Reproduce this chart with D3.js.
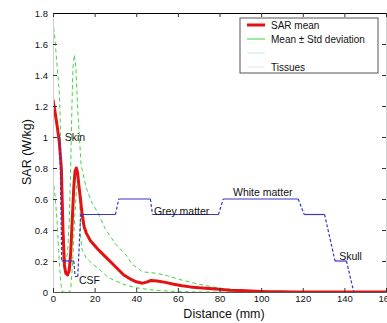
<!DOCTYPE html>
<html>
<head>
<meta charset="utf-8">
<script src="https://cdn.jsdelivr.net/npm/d3@7"></script>
<style>
  html, body { margin: 0; padding: 0; background: #fff; }
  svg { display: block; font-family: Arial, "Liberation Sans", Helvetica, sans-serif; }
</style>
</head>
<body>
<svg id="chart" width="387" height="323"></svg>
<script>
// SAR mean along the distance (mm)
const meanDist = [0, 1, 2, 3, 4, 4.8, 5.5, 6.2, 7, 7.8, 8.5, 9.2, 10, 10.6, 11.2, 11.8, 12.5, 13.2, 14, 15, 16, 18, 20, 22, 25, 28, 31, 34, 37, 40, 43, 45, 47, 50, 54, 58, 62, 66, 70, 75, 80, 85, 90, 95, 100, 105, 110, 115, 160];
const meanSar = [1.24, 1.16, 1.07, 0.97, 0.8, 0.4, 0.17, 0.12, 0.11, 0.14, 0.25, 0.45, 0.68, 0.78, 0.8, 0.77, 0.68, 0.6, 0.5, 0.42, 0.38, 0.33, 0.3, 0.27, 0.23, 0.19, 0.15, 0.11, 0.085, 0.066, 0.057, 0.064, 0.074, 0.071, 0.062, 0.05, 0.04, 0.033, 0.028, 0.022, 0.017, 0.012, 0.009, 0.006, 0.004, 0.002, 0.001, 0, 0];

// mean + std
const upperDist = [0, 1, 2, 3, 3.5, 3.8, 4.2, 5, 6, 7, 7.8, 8.5, 9.1, 9.6, 10.3, 11, 12, 13.5, 16, 18.5, 21.6, 25, 30, 35, 38, 43, 47, 50, 55, 61, 70, 80, 90, 100, 110, 160];
const upperSar = [1.75, 1.62, 1.45, 1.3, 1.1, 0.8, 0.5, 0.3, 0.2, 0.25, 0.45, 0.8, 1.2, 1.45, 1.53, 1.45, 1.15, 0.82, 0.67, 0.58, 0.51, 0.41, 0.31, 0.24, 0.18, 0.13, 0.125, 0.12, 0.105, 0.08, 0.05, 0.025, 0.012, 0.005, 0, 0];

// mean - std
const lowerDist = [0, 1, 2, 3, 3.8, 4.5, 8, 8.5, 9.5, 10.5, 11.5, 12.3, 12.8, 13.3, 14, 16, 19, 22, 26, 30, 35, 40, 45, 50, 60, 70, 160];
const lowerSar = [0.73, 0.62, 0.45, 0.2, 0.05, 0, 0, 0.02, 0.2, 0.5, 0.7, 0.72, 0.65, 0.35, 0.27, 0.22, 0.18, 0.15, 0.1, 0.07, 0.045, 0.028, 0.018, 0.01, 0.003, 0, 0];

// tissue profile
const tissueDist = [3.3, 4.2, 10, 10.6, 11.9, 13.3, 30, 31.6, 46.8, 47.8, 79.5, 81.8, 117.8, 120.7, 130.5, 135.5, 141, 144.5];
const tissueSar = [1.0, 0.2, 0.2, 0.1, 0.1, 0.5, 0.5, 0.6, 0.6, 0.5, 0.5, 0.6, 0.6, 0.5, 0.5, 0.2, 0.2, 0];

const tissueNames = ["Skin", "CSF", "Grey matter", "White matter", "Skull"];
const tissueNameDist = [5.6, 12.5, 48.5, 86.5, 137.5];
const tissueNameSar = [1.0, 0.077, 0.52, 0.64, 0.23];

const xTicks = [0, 20, 40, 60, 80, 100, 120, 140, 160];
const yTicks = [0, 0.2, 0.4, 0.6, 0.8, 1, 1.2, 1.4, 1.6, 1.8];

const legendNames = ["SAR mean", "Mean \u00b1 Std deviation", "", "Tissues"];

const plotLeft = 53, plotTop = 13, plotRight = 386, plotBottom = 292;

const svg = d3.select("#chart");

const x = d3.scaleLinear().domain([0, 160]).range([plotLeft, plotRight]);
const y = d3.scaleLinear().domain([0, 1.8]).range([plotBottom, plotTop]);

svg.append("defs").append("clipPath").attr("id", "plot")
  .append("rect")
  .attr("x", plotLeft).attr("y", plotTop)
  .attr("width", plotRight - plotLeft).attr("height", plotBottom - plotTop);

const zip = (xs, ys) => xs.map((d, i) => [d, ys[i]]);
const line = d3.line().x(d => x(d[0])).y(d => y(d[1]));

const plot = svg.append("g").attr("clip-path", "url(#plot)");

// std lines
[zip(upperDist, upperSar), zip(lowerDist, lowerSar)].forEach(pts => {
  plot.append("path")
    .attr("d", line(pts))
    .attr("fill", "none")
    .attr("stroke", "#3fd83f")
    .attr("stroke-width", 1)
    .attr("stroke-dasharray", "4,3");
});

// mean line
plot.append("path")
  .attr("d", line(zip(meanDist, meanSar)))
  .attr("fill", "none")
  .attr("stroke", "#e41212")
  .attr("stroke-width", 3)
  .attr("stroke-linejoin", "round");

// tissue line: flat parts solid, transitions dashed
const tissue = zip(tissueDist, tissueSar);
for (let i = 0; i < tissue.length - 1; i++) {
  const a = tissue[i], b = tissue[i + 1];
  plot.append("path")
    .attr("d", line([a, b]))
    .attr("fill", "none")
    .attr("stroke", "#3636c8")
    .attr("stroke-width", 1.2)
    .attr("stroke-dasharray", a[1] === b[1] ? null : "3,2");
}

// axes, MATLAB style with inward ticks
const yAxis = d3.axisLeft(y).tickValues(yTicks).tickFormat(String).tickSize(-4).tickPadding(5);
const yAxisR = d3.axisRight(y).tickValues(yTicks).tickFormat("").tickSize(-4);
const xAxis = d3.axisBottom(x).tickValues(xTicks).tickFormat(String).tickSize(-4).tickPadding(3);
const xAxisT = d3.axisTop(x).tickValues(xTicks).tickFormat("").tickSize(-4);

const gl = svg.append("g").attr("transform", `translate(${plotLeft},0)`).call(yAxis);
const gr = svg.append("g").attr("transform", `translate(${plotRight},0)`).call(yAxisR);
const gb = svg.append("g").attr("transform", `translate(0,${plotBottom})`).call(xAxis);
const gt = svg.append("g").attr("transform", `translate(0,${plotTop})`).call(xAxisT);

gl.select(".domain").attr("stroke", "#d0d0d0");
gr.select(".domain").attr("stroke", "#d0d0d0");
gb.select(".domain").attr("stroke", "#555");
gt.select(".domain").attr("stroke", "#000");
[gl, gr, gb, gt].forEach(g => {
  g.selectAll(".tick line").attr("stroke", "#333");
  g.selectAll("text").attr("font-size", 9.5).attr("fill", "#111").attr("font-family", null);
});

// axis titles
svg.append("text")
  .attr("x", 224).attr("y", 318)
  .attr("text-anchor", "middle")
  .attr("font-size", 12.5)
  .attr("fill", "#111")
  .text("Distance (mm)");

svg.append("text")
  .attr("transform", "translate(31,152) rotate(-90)")
  .attr("text-anchor", "middle")
  .attr("font-size", 12.5)
  .attr("fill", "#111")
  .text("SAR (W/kg)");

// tissue names
tissueNames.forEach((name, i) => {
  svg.append("text")
    .attr("x", x(tissueNameDist[i]))
    .attr("y", y(tissueNameSar[i]))
    .attr("dy", "0.35em")
    .attr("font-size", 10.5)
    .attr("fill", "#111")
    .text(name);
});

// legend
const legend = svg.append("g").attr("transform", "translate(240,18)");
legend.append("rect")
  .attr("width", 138).attr("height", 55)
  .attr("fill", "#fff")
  .attr("stroke", "#555")
  .attr("stroke-width", 1);

const legendStyles = [
  { stroke: "#e41212", width: 3 },
  { stroke: "#3fd83f", width: 1 },
  { stroke: "#bfeaea", width: 1 },
  { stroke: "#e4e4f4", width: 1 }
];

legendNames.forEach((name, i) => {
  const ly = 7 + i * 14;
  legend.append("line")
    .attr("x1", 7).attr("x2", 25)
    .attr("y1", ly).attr("y2", ly)
    .attr("stroke", legendStyles[i].stroke)
    .attr("stroke-width", legendStyles[i].width);
  legend.append("text")
    .attr("x", 31).attr("y", ly)
    .attr("dy", "0.35em")
    .attr("font-size", 10)
    .attr("fill", "#111")
    .text(name);
});
</script>
</body>
</html>
